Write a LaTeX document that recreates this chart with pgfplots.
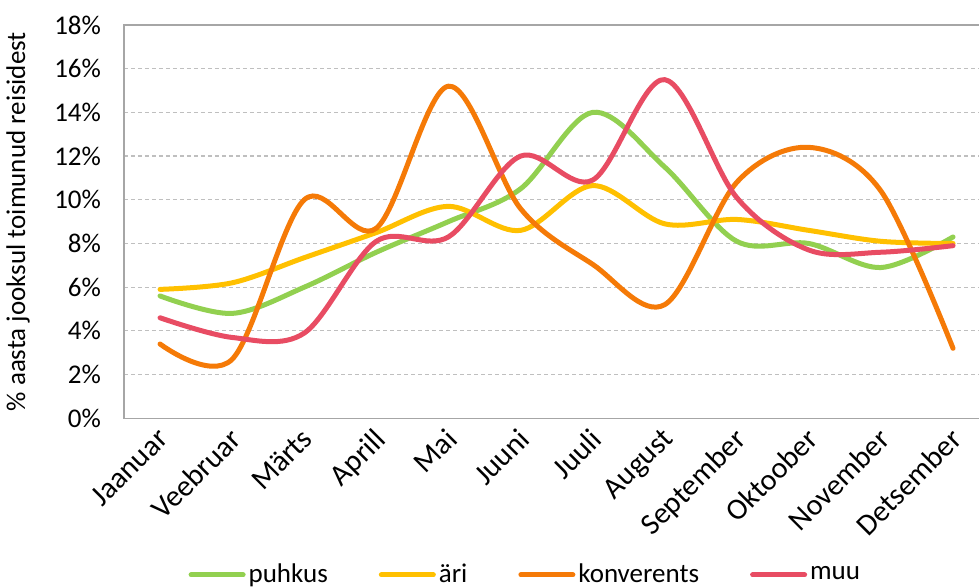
\documentclass[border=0pt]{standalone}
\usepackage{fontspec}
\setmainfont{Carlito}
\usepackage{pgfplots}
\pgfplotsset{compat=1.18}
\definecolor{cgreen}{HTML}{92D050}
\definecolor{cyellow}{HTML}{FFC000}
\definecolor{corange}{HTML}{F57A07}
\definecolor{cred}{HTML}{E84C63}
\definecolor{cgrid}{HTML}{BFBFBF}
\definecolor{caxis}{HTML}{A6A6A6}
\newcommand{\fs}{\fontsize{13.5}{16}\selectfont}
\newcommand{\fx}{\fontsize{15}{18}\selectfont}
\begin{document}
\begin{tikzpicture}
\begin{axis}[
  at={(0,0)}, anchor=south west,
  scale only axis,
  width=427.5pt, height=196.65pt,
  xmin=-0.5, xmax=11.36,
  ymin=0, ymax=18,
  xtick={0,...,11},
  xticklabels={Jaanuar,Veebruar,Märts,Aprill,Mai,Juuni,Juuli,August,September,Oktoober,November,Detsember},
  ytick={0,2,...,18},
  yticklabels={0\%,2\%,4\%,6\%,8\%,10\%,12\%,14\%,16\%,18\%},
  major tick length=0pt,
  axis line style={draw=none},
  ymajorgrids,
  grid style={cgrid, line width=0.6pt, dash pattern=on 2pt off 1.5pt},
  tick label style={font=\fs, text=black},
  yticklabel style={xshift=-8pt},
  xticklabel style={font=\fx, xshift=-2pt, yshift=-4pt, rotate=45, anchor=north east, inner sep=0pt},
  ylabel={\% aasta jooksul toimunud reisidest},
  ylabel style={font=\fs, at={(axis description cs:-0.124,0.5)}, anchor=center},
  legend columns=4,
  legend style={draw=none, fill=none, font=\fs, at={(axis description cs:0.47,-0.398)}, anchor=center,
    /tikz/every even column/.append style={column sep=24pt},
    nodes={inner xsep=1.5pt}},
  legend image code/.code={\draw[#1, line width=2.5pt, line cap=round] (0pt,0pt) -- (26pt,0pt);},
  every axis plot/.append style={line width=2.5pt, smooth, tension=0.55, no marks, line cap=round},
  clip=false,
]
\addplot[cgreen] coordinates {(0,5.6) (1,4.8) (2,6.0) (3,7.6) (4,9.0) (5,10.5) (6,14.0) (7,11.5) (8,8.1) (9,8.0) (10,6.9) (11,8.3)};
\addlegendentry{puhkus}
\addplot[cyellow] coordinates {(0,5.9) (1,6.2) (2,7.35) (3,8.5) (4,9.7) (5,8.6) (6,10.65) (7,8.9) (8,9.1) (9,8.6) (10,8.1) (11,8.0)};
\addlegendentry{äri}
\addplot[corange] coordinates {(0,3.4) (1,2.7) (2,10.0) (3,8.7) (4,15.2) (5,9.6) (6,7.05) (7,5.2) (8,10.8) (9,12.4) (10,10.4) (11,3.2)};
\addlegendentry{konverents}
\addplot[cred] coordinates {(0,4.6) (1,3.7) (2,3.9) (3,8.1) (4,8.3) (5,12.0) (6,10.9) (7,15.5) (8,10.1) (9,7.7) (10,7.6) (11,7.9)};
\addlegendentry{muu}
\draw[caxis, line width=0.6pt] (rel axis cs:1,1) -- (rel axis cs:0,1) -- (rel axis cs:0,0) -- (rel axis cs:1,0);
\end{axis}
\pgfresetboundingbox
\path (-62pt,-84.35pt) rectangle (427.5pt,209.15pt);
\end{tikzpicture}
\end{document}
